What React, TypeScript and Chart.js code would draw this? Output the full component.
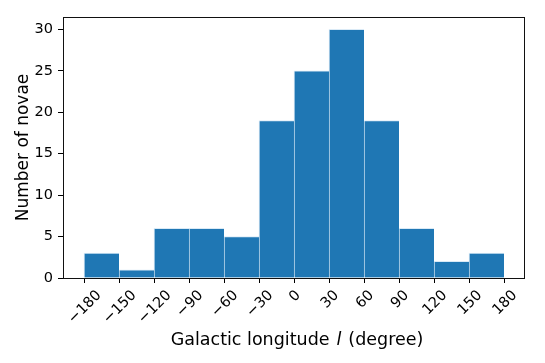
import { useEffect, useRef } from "react";
import { Chart, registerables } from "chart.js";
Chart.register(...registerables);

const binCenters = [-165, -135, -105, -75, -45, -15, 15, 45, 75, 105, 135, 165];
const counts = [3, 1, 6, 6, 5, 19, 25, 30, 19, 6, 2, 3];
const xTicks = [-180, -150, -120, -90, -60, -30, 0, 30, 60, 90, 120, 150, 180];
const xTickLabels = ["−180", "−150", "−120", "−90", "−60", "−30", "0", "30", "60", "90", "120", "150", "180"];
const yTicks = [0, 5, 10, 15, 20, 25, 30];
const xTitleParts = ["Galactic longitude", "l", "(degree)"];
const yTitle = "Number of novae";

const FONT = "'DejaVu Sans', sans-serif";
const TICK_SIZE = 14.5;
const TITLE_SIZE = 17.5;
const TICK_LEN = 5;
const TICK_PAD = 5;

const customPlugin = {
  id: "customDraw",
  afterDatasetsDraw(chart: any) {
    const { ctx, chartArea: a } = chart;
    ctx.save();
    ctx.strokeStyle = "#111";
    ctx.lineWidth = 1;
    ctx.strokeRect(a.left + 0.5, a.top + 0.5, a.right - a.left - 1, a.bottom - a.top);
    ctx.restore();
  },
  afterDraw(chart: any) {
    const { ctx, chartArea: a } = chart;
    const xs = chart.scales.x;
    ctx.save();
    ctx.fillStyle = "#000";
    ctx.font = `${TICK_SIZE}px ${FONT}`;
    ctx.textAlign = "center";
    ctx.textBaseline = "middle";
    xTicks.forEach((v, i) => {
      const label = xTickLabels[i];
      const px = xs.getPixelForValue(v);
      const w = ctx.measureText(label).width;
      const h = TICK_SIZE * 1.0;
      const s = (w + h) * Math.SQRT1_2;
      const cy = a.bottom + TICK_LEN + TICK_PAD + s / 2;
      ctx.save();
      ctx.translate(px + 1, cy);
      ctx.rotate(-Math.PI / 4);
      ctx.fillText(label, 0, 0);
      ctx.restore();
    });
    // x title with italic l
    const fonts = [
      `${TITLE_SIZE}px ${FONT}`,
      `italic ${TITLE_SIZE}px ${FONT}`,
      `${TITLE_SIZE}px ${FONT}`,
    ];
    const gap = 7;
    const widths = xTitleParts.map((t, i) => {
      ctx.font = fonts[i];
      return ctx.measureText(t).width;
    });
    const total = widths.reduce((p, c) => p + c, 0) + gap * 2;
    let x = (a.left + a.right) / 2 - total / 2 + 3;
    ctx.textAlign = "left";
    ctx.textBaseline = "alphabetic";
    xTitleParts.forEach((t, i) => {
      ctx.font = fonts[i];
      ctx.fillText(t, x, 345);
      x += widths[i] + gap;
    });
    ctx.restore();
  },
};

export default function App() {
  const ref = useRef<HTMLCanvasElement | null>(null);
  useEffect(() => {
    document.body.style.margin = "0";
    const canvas = ref.current;
    if (!canvas) return;
    const chart = new Chart(canvas, {
      type: "bar",
      data: {
        datasets: [
          {
            data: binCenters.map((c, i) => ({ x: c, y: counts[i] })),
            backgroundColor: "#1f77b4",
            borderColor: "rgba(150,195,230,0.35)",
            borderWidth: { top: 1, left: 1, right: 0, bottom: 0 },
            borderSkipped: false,
            barPercentage: 1,
            categoryPercentage: 1,
          } as any,
        ],
      },
      options: {
        animation: false,
        responsive: false,
        devicePixelRatio: 1,
        layout: { padding: { top: 17, right: 20, left: 0, bottom: 0 } },
        plugins: {
          legend: { display: false },
          tooltip: { enabled: false },
        },
        scales: {
          x: {
            type: "linear",
            min: -198,
            max: 198,
            offset: false,
            afterBuildTicks: (s: any) => {
              s.ticks = xTicks.map((v) => ({ value: v }));
            },
            afterFit: (s: any) => {
              s.height = 85;
            },
            ticks: { display: false },
            grid: {
              offset: false,
              drawOnChartArea: false,
              drawTicks: true,
              tickLength: TICK_LEN,
              tickColor: "#000",
              tickWidth: 1,
            },
            border: { display: false },
          },
          y: {
            type: "linear",
            min: 0,
            max: 31.5,
            afterBuildTicks: (s: any) => {
              s.ticks = yTicks.map((v) => ({ value: v }));
            },
            afterFit: (s: any) => {
              s.width = 63;
            },
            ticks: {
              color: "#000",
              font: { family: FONT, size: TICK_SIZE },
              padding: TICK_PAD,
            },
            grid: {
              drawOnChartArea: false,
              drawTicks: true,
              tickLength: TICK_LEN,
              tickColor: "#000",
              tickWidth: 1,
            },
            border: { display: false },
            title: {
              display: true,
              text: yTitle,
              color: "#000",
              font: { family: FONT, size: 17 },
              padding: { top: 13, bottom: 0 },
            },
          },
        },
      },
      plugins: [customPlugin],
    } as any);
    return () => chart.destroy();
  }, []);
  return <canvas ref={ref} width={545} height={363} style={{ display: "block" }} />;
}
